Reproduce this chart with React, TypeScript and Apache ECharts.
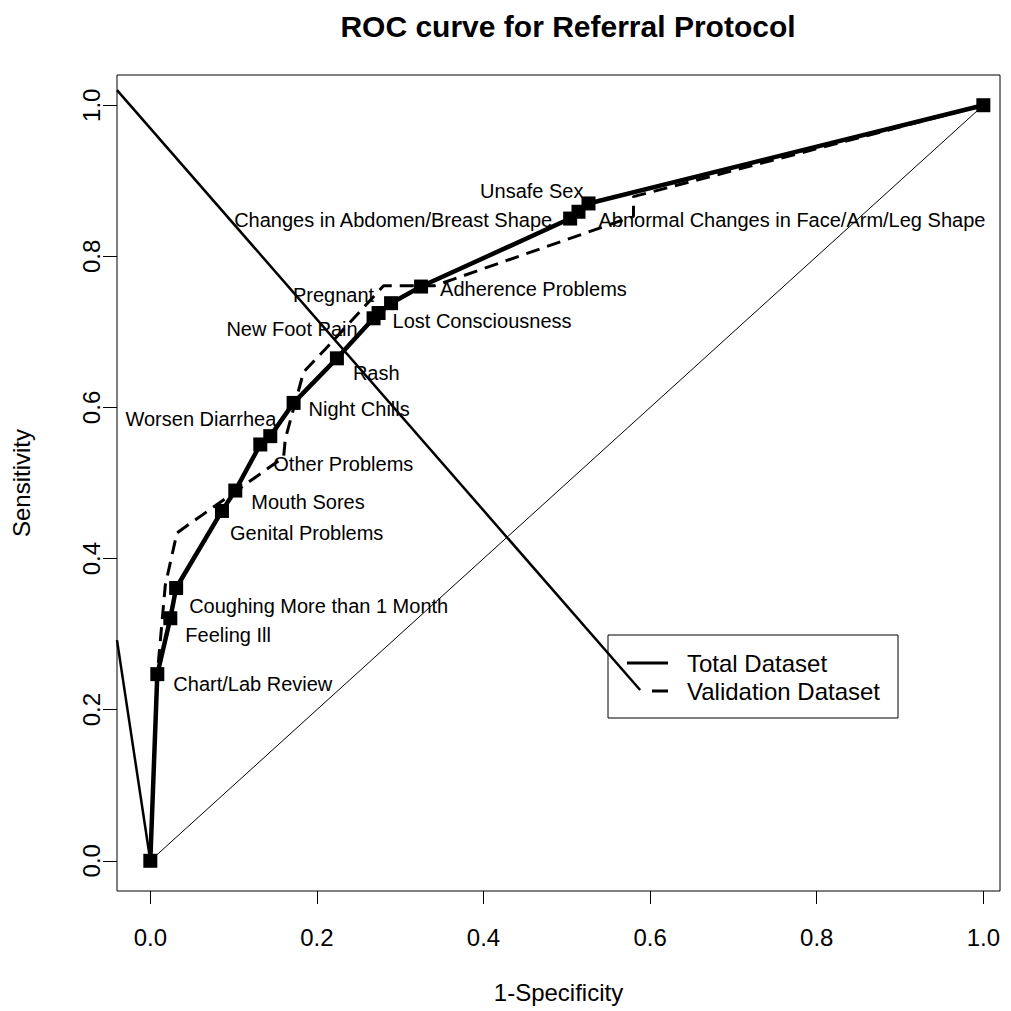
import React, { useEffect, useRef } from "react";
import * as echarts from "echarts";

const FONT = "'Liberation Sans', Arial, Helvetica, sans-serif";

// Total dataset ROC points (1-specificity, sensitivity)
const totalX = [0, 0.0084, 0.024, 0.031, 0.086, 0.102, 0.132, 0.144, 0.172, 0.224, 0.268, 0.274, 0.289, 0.325, 0.504, 0.514, 0.526, 1.0];
const totalY = [0, 0.247, 0.321, 0.361, 0.463, 0.49, 0.551, 0.562, 0.606, 0.665, 0.718, 0.725, 0.738, 0.76, 0.85, 0.859, 0.87, 1.0];
const totalLabels = [
  "",
  "Chart/Lab Review",
  "Feeling Ill",
  "Coughing More than 1 Month",
  "Genital Problems",
  "Mouth Sores",
  "Worsen Diarrhea",
  "Other Problems",
  "Night Chills",
  "Rash",
  "New Foot Pain",
  "Lost Consciousness",
  "Pregnant",
  "Adherence Problems",
  "Changes in Abdomen/Breast Shape",
  "Abnormal Changes in Face/Arm/Leg Shape",
  "Unsafe Sex",
  "",
];

// Validation dataset ROC curve
const validX = [0, 0.0084, 0.018, 0.032, 0.16, 0.162, 0.184, 0.21, 0.28, 0.341, 0.58, 0.58, 1.0];
const validY = [0, 0.247, 0.365, 0.434, 0.534, 0.558, 0.647, 0.677, 0.761, 0.761, 0.853, 0.879, 1.0];

// Chance diagonal
const chanceX = [0, 1];
const chanceY = [0, 1];

// Stray straight lines present in the original plot
const strayAX = [-0.04, 0.588];
const strayAY = [1.02, 0.226];
const strayBX = [-0.04, 0];
const strayBY = [0.292, 0];

const tickValues = [0, 0.2, 0.4, 0.6, 0.8, 1.0];
const seriesNames = ["Total Dataset", "Validation Dataset"];

// label placement: [align, dx, dy] in pixels relative to the point
const labelPlacement: Record<string, [string, number, number]> = {
  "Chart/Lab Review": ["left", 16, 10],
  "Feeling Ill": ["left", 15, 17],
  "Coughing More than 1 Month": ["left", 13, 18],
  "Genital Problems": ["left", 8, 22],
  "Mouth Sores": ["left", 16, 11],
  "Worsen Diarrhea": ["right", 16, -25],
  "Other Problems": ["left", 3, 28],
  "Night Chills": ["left", 15, 6],
  "Rash": ["left", 16, 15],
  "New Foot Pain": ["right", -16, 11],
  "Lost Consciousness": ["left", 14, 8],
  "Pregnant": ["right", -17, -8],
  "Adherence Problems": ["left", 19, 2],
  "Changes in Abdomen/Breast Shape": ["right", -18, 1],
  "Abnormal Changes in Face/Arm/Leg Shape": ["left", 20, 8],
  "Unsafe Sex": ["right", -5, -12],
};

const zip = (xs: number[], ys: number[]) => xs.map((x, i) => [x, ys[i]]);

export default function App() {
  const ref = useRef<HTMLDivElement>(null);

  useEffect(() => {
    if (!ref.current) return;
    const chart = echarts.init(ref.current, undefined, { renderer: "svg" });

    const totalData = totalX.map((x, i) => {
      const name = totalLabels[i];
      const pl = labelPlacement[name];
      if (!name || !pl) return { value: [x, totalY[i]], label: { show: false } };
      return {
        value: [x, totalY[i]],
        label: {
          show: true,
          formatter: name,
          position: [7 + pl[1], 7 + pl[2]],
          align: pl[0],
          verticalAlign: "middle",
          fontSize: 20,
          color: "#000",
          fontFamily: FONT,
        },
      };
    });

    const option: any = {
      animation: false,
      backgroundColor: "#fff",
      title: {
        text: "ROC curve for Referral Protocol",
        left: 563,
        top: 6,
        textAlign: "center",
        textStyle: { fontSize: 30, fontWeight: "bold", color: "#000", fontFamily: FONT },
      },
      grid: {
        left: 117,
        top: 75,
        width: 883,
        height: 816,
        show: true,
        borderColor: "#000",
        borderWidth: 1,
        backgroundColor: "transparent",
        containLabel: false,
        outerBoundsMode: "none",
      },
      xAxis: {
        type: "value",
        min: -0.04,
        max: 1.02,
        axisLine: { show: false, onZero: false },
        splitLine: { show: false },
        axisTick: { show: true, inside: false, customValues: tickValues, length: 13, lineStyle: { color: "#000", width: 1 } },
        axisLabel: {
          customValues: tickValues,
          formatter: (v: number) => v.toFixed(1),
          fontSize: 24,
          color: "#000",
          fontFamily: FONT,
          margin: 34,
        },
        name: "1-Specificity",
        nameLocation: "middle",
        nameGap: 89,
        nameTextStyle: { fontSize: 24, color: "#000", fontFamily: FONT },
      },
      yAxis: {
        type: "value",
        min: -0.04,
        max: 1.04,
        axisLine: { show: false, onZero: false },
        splitLine: { show: false },
        axisTick: { show: true, inside: false, customValues: tickValues, length: 14, lineStyle: { color: "#000", width: 1 } },
        axisLabel: {
          customValues: tickValues,
          formatter: (v: number) => v.toFixed(1),
          fontSize: 24,
          color: "#000",
          fontFamily: FONT,
          rotate: 90,
          margin: 14,
        },
        name: "Sensitivity",
        nameLocation: "middle",
        nameRotate: 90,
        nameGap: 84,
        nameTextStyle: { fontSize: 24, color: "#000", fontFamily: FONT },
      },
      series: [
        {
          type: "line",
          name: "chance",
          data: zip(chanceX, chanceY),
          symbol: "none",
          lineStyle: { color: "#000", width: 1 },
          z: 1,
          silent: true,
        },
        {
          type: "line",
          name: "strayA",
          data: zip(strayAX, strayAY),
          symbol: "none",
          lineStyle: { color: "#000", width: 2.5 },
          z: 2,
          silent: true,
        },
        {
          type: "line",
          name: "strayB",
          data: zip(strayBX, strayBY),
          symbol: "none",
          lineStyle: { color: "#000", width: 2.5 },
          z: 2,
          silent: true,
        },
        {
          type: "line",
          name: seriesNames[1],
          data: zip(validX, validY),
          symbol: "none",
          lineStyle: { color: "#000", width: 3, type: [14, 8] },
          z: 3,
          silent: true,
        },
        {
          type: "line",
          name: seriesNames[0],
          data: totalData,
          symbol: "rect",
          symbolSize: 14,
          showAllSymbol: true,
          itemStyle: { color: "#000" },
          lineStyle: { color: "#000", width: 4.5 },
          z: 4,
          silent: true,
        },
      ],
      graphic: [
        {
          type: "rect",
          shape: { x: 608, y: 635, width: 290, height: 83 },
          style: { fill: "transparent", stroke: "#000", lineWidth: 1 },
          z: 10,
        },
        {
          type: "line",
          shape: { x1: 627, y1: 663, x2: 668, y2: 663 },
          style: { stroke: "#000", lineWidth: 3 },
          z: 10,
        },
        {
          type: "line",
          shape: { x1: 652, y1: 691, x2: 668, y2: 691 },
          style: { stroke: "#000", lineWidth: 3 },
          z: 10,
        },
        {
          type: "text",
          x: 687,
          y: 663,
          style: { text: seriesNames[0], fontSize: 24, fill: "#000", fontFamily: FONT, verticalAlign: "middle", align: "left" },
          z: 10,
        },
        {
          type: "text",
          x: 687,
          y: 691,
          style: { text: seriesNames[1], fontSize: 24, fill: "#000", fontFamily: FONT, verticalAlign: "middle", align: "left" },
          z: 10,
        },
      ],
    };

    chart.setOption(option);
    return () => chart.dispose();
  }, []);

  return (
    <div
      ref={ref}
      style={{ position: "absolute", left: 0, top: 0, width: 1011, height: 1011, background: "#fff" }}
    />
  );
}
